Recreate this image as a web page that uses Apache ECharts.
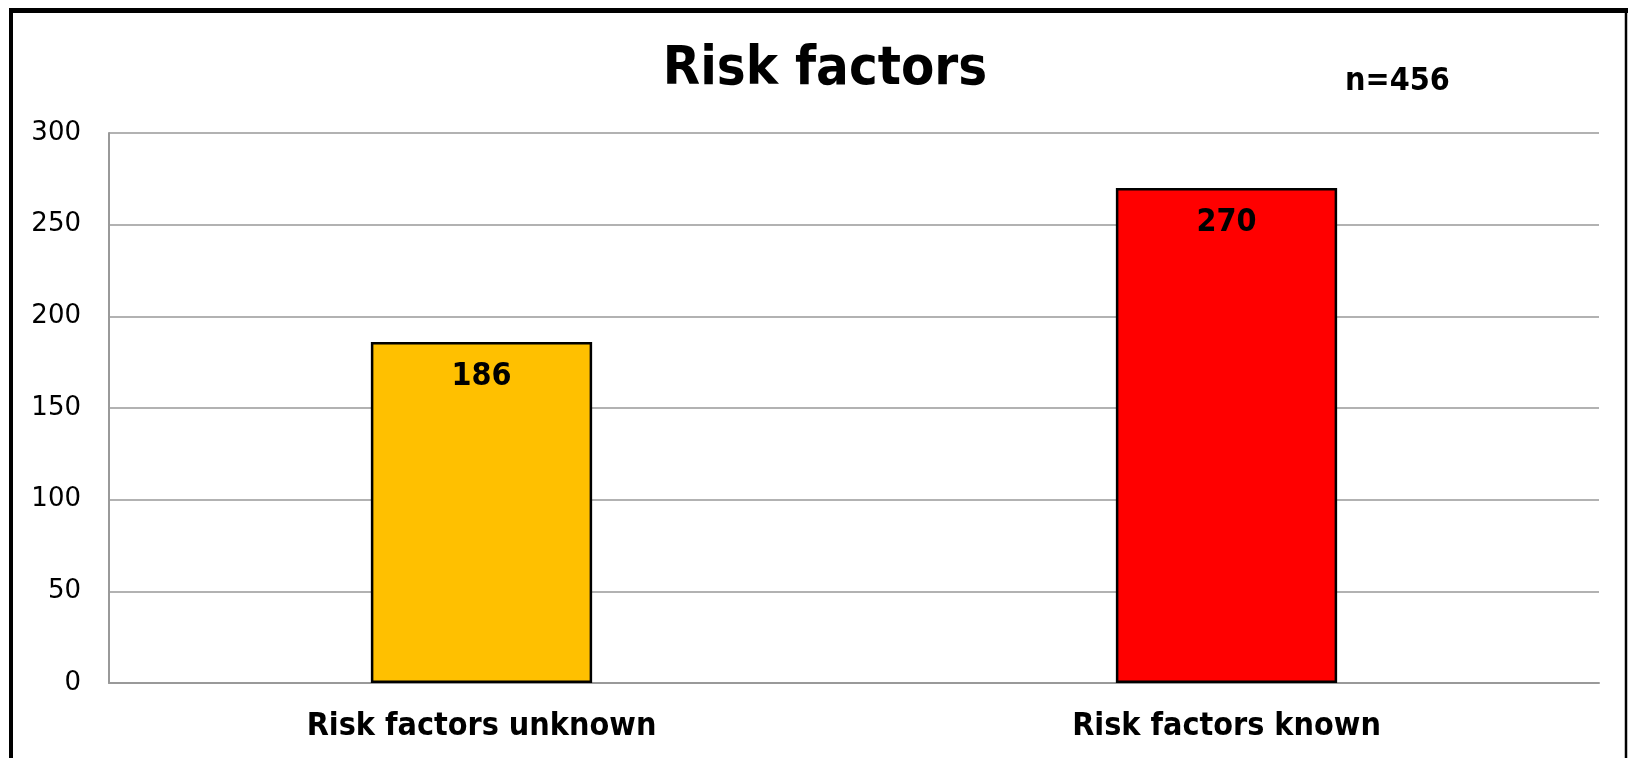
<!DOCTYPE html>
<html>
<head>
<meta charset="utf-8">
<script src="https://cdn.jsdelivr.net/npm/echarts@6/dist/echarts.min.js"></script>
<style>
html,body{margin:0;padding:0;background:#fff;}
#c{width:1628px;height:758px;}
</style>
</head>
<body>
<div id="c"></div>
<script>
const categories = ['Risk factors unknown', 'Risk factors known'];
const values = [186, 270];
const barColors = ['#FFC000', '#FF0000'];
const titleText = 'Risk factors';
const noteText = 'n=456';

const FONT = '"DejaVu Sans Condensed", "DejaVu Sans", sans-serif';
const chart = echarts.init(document.getElementById('c'));
chart.setOption({
  backgroundColor: '#fff',
  animation: false,
  title: {
    text: titleText,
    left: 820, top: 38, textAlign: 'center',
    textStyle: {fontFamily: FONT, fontWeight: 'bold', fontSize: 54, color: '#000'}
  },
  graphic: [
    {type: 'line', shape: {x1: 9, y1: 10.5, x2: 1628, y2: 10.5}, style: {stroke: '#000', lineWidth: 5}, silent: true},
    {type: 'line', shape: {x1: 11, y1: 8, x2: 11, y2: 758}, style: {stroke: '#000', lineWidth: 4}, silent: true},
    {type: 'line', shape: {x1: 1626, y1: 8, x2: 1626, y2: 758}, style: {stroke: '#000', lineWidth: 2.5}, silent: true},
    {type: 'text', left: 1345, top: 66,
     style: {text: noteText, font: 'bold 32px ' + FONT, fill: '#000'}}
  ],
  grid: {left: 109, right: 29, top: 133, bottom: 75, containLabel: false},
  xAxis: {
    type: 'category', data: categories,
    axisLine: {show: true, lineStyle: {color: '#999', width: 2}},
    axisTick: {show: false},
    axisLabel: {margin: 28, fontFamily: FONT, fontWeight: 'bold', fontSize: 32, color: '#000'}
  },
  yAxis: {
    type: 'value', min: 0, max: 300, interval: 50,
    axisLine: {show: true, lineStyle: {color: '#999', width: 2}},
    axisTick: {show: false},
    splitLine: {lineStyle: {color: '#999', width: 1.6}},
    axisLabel: {margin: 28, fontFamily: '"DejaVu Sans", sans-serif', fontSize: 26, color: '#000'}
  },
  series: [{
    type: 'bar', barWidth: '29.7%',
    data: values.map((v, i) => ({value: v, itemStyle: {color: barColors[i]}})),
    itemStyle: {borderColor: '#000', borderWidth: 2.5},
    label: {show: true, position: 'insideTop', distance: 19,
      fontFamily: FONT, fontWeight: 'bold', fontSize: 32, color: '#000'}
  }]
});
</script>
</body>
</html>
